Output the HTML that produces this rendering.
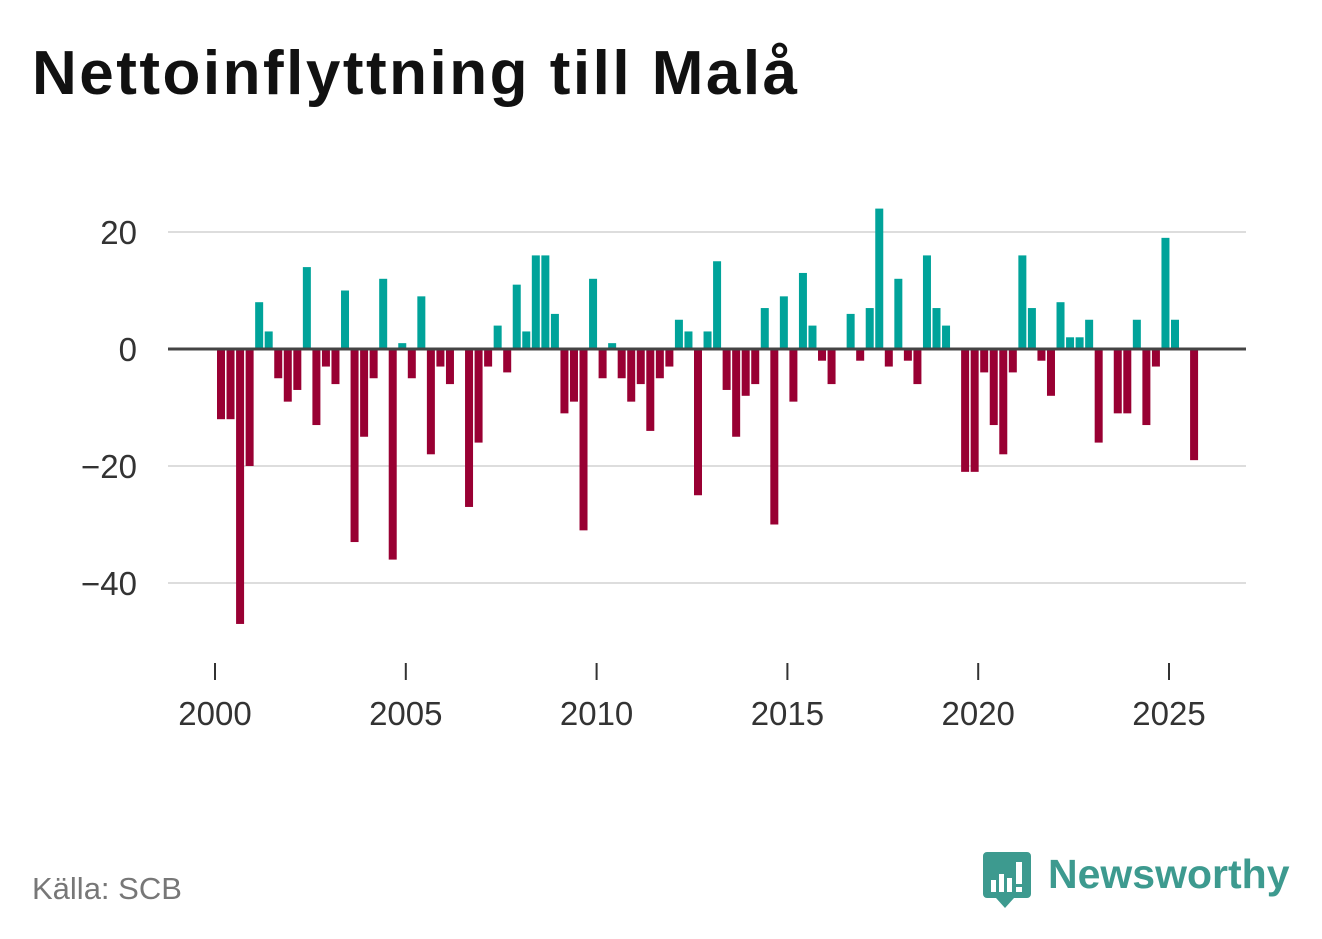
<!DOCTYPE html>
<html><head><meta charset="utf-8">
<style>
html,body{margin:0;padding:0;background:#fff;}
body{width:1322px;height:939px;position:relative;overflow:hidden;font-family:"Liberation Sans",sans-serif;}
#title{position:absolute;left:32px;top:38px;font-size:62px;font-weight:bold;color:#111;letter-spacing:2.5px;margin:0;}
#source{position:absolute;left:32px;top:871px;font-size:31px;color:#777;}
#logo{position:absolute;left:980px;top:850px;}
</style></head>
<body>
<h1 id="title">Nettoinflyttning till Malå</h1>
<svg id="chart" width="1322" height="939" style="position:absolute;left:0;top:0"></svg>
<div id="source">Källa: SCB</div>
<svg id="logo" width="320" height="65">
<path d="M3 2h44a4 4 0 0 1 4 4v38a4 4 0 0 1-4 4H34l-9 10-9-10H7a4 4 0 0 1-4-4V6a4 4 0 0 1 4-4z" fill="#3d9a8f"/>
<rect x="11" y="30" width="5" height="12" fill="#fff"/><rect x="19" y="24" width="5" height="18" fill="#fff"/><rect x="27" y="28" width="5" height="14" fill="#fff"/><rect x="36" y="12" width="6" height="22" fill="#fff"/><rect x="36" y="37" width="6" height="5" fill="#fff"/>
<text x="68" y="38" font-family="Liberation Sans, sans-serif" font-size="41" font-weight="bold" fill="#3d9a8f">Newsworthy</text>
</svg>
<script>
const categoriesStartYear = 2000;
const values = [-12,-12,-47,-20,8,3,-5,-9,-7,14,-13,-3,-6,10,-33,-15,-5,12,-36,1,-5,9,-18,-3,-6,0,-27,-16,-3,4,-4,11,3,16,16,6,-11,-9,-31,12,-5,1,-5,-9,-6,-14,-5,-3,5,3,-25,3,15,-7,-15,-8,-6,7,-30,9,-9,13,4,-2,-6,0,6,-2,7,24,-3,12,-2,-6,16,7,4,0,-21,-21,-4,-13,-18,-4,16,7,-2,-8,8,2,2,5,-16,0,-11,-11,5,-13,-3,19,5,0,-19];
const yTicks = [20,0,-20,-40];
const xTicks = [2000,2005,2010,2015,2020,2025];
const NS="http://www.w3.org/2000/svg";
const svg=document.getElementById('chart');
const y=v=>349-v*5.85;
const x=t=>215+(t-2000)*38.16;
function mk(tag,attrs){const e=document.createElementNS(NS,tag);for(const k in attrs)e.setAttribute(k,attrs[k]);svg.appendChild(e);return e;}
yTicks.forEach(t=>{
  if(t!==0){const g=mk('line',{x1:168,x2:1246,y1:y(t),y2:y(t),stroke:'#ddd','stroke-width':2});
  
  }
  const l=mk('text',{x:137,y:y(t)+12,'text-anchor':'end','font-size':33,fill:'#333','font-family':'Liberation Sans, sans-serif'});
  l.textContent=t<0?'\u2212'+(-t):String(t);
  
  
});
values.forEach((v,i)=>{
  const cx=x(categoriesStartYear+i*0.25)+6;
  const r=mk('rect',{x:cx-4,y:Math.min(y(v),y(0)),width:8,height:Math.abs(y(v)-y(0)),fill:v>=0?'#00a39a':'#990033'});
  
  
});
const z=mk('line',{x1:168,x2:1246,y1:y(0),y2:y(0),stroke:'#444','stroke-width':3});


xTicks.forEach(t=>{
  const tk=mk('line',{x1:x(t),x2:x(t),y1:663,y2:680,stroke:'#333','stroke-width':2});
  
  
  const l=mk('text',{x:x(t),y:725,'text-anchor':'middle','font-size':33,fill:'#333','font-family':'Liberation Sans, sans-serif'});
  l.textContent=String(t);
  
  
});
</script>
</body></html>
